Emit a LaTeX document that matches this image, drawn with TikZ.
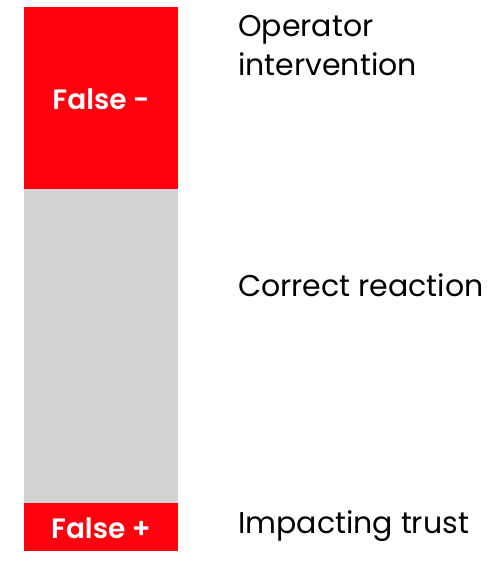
\documentclass[tikz,border=0pt]{standalone}
\usepackage{fontspec}
\setmainfont{Poppins}[BoldFont={Poppins SemiBold}]
\definecolor{abbred}{HTML}{FF000F}
\definecolor{barGray}{HTML}{D2D2D2}
\begin{document}
\begin{tikzpicture}[x=1pt,y=-1pt,
  bandtext/.style={text=white,font=\fontsize{28}{32}\selectfont\bfseries,anchor=base,inner sep=0pt},
  label/.style={text=black,font=\fontsize{30}{39}\selectfont,anchor=base west,inner sep=0pt,align=left}]
  \useasboundingbox (0,0) rectangle (502,571);
  % stacked bar
  \fill[abbred] (24,7) rectangle (178,189);
  \fill[barGray] (24,189) rectangle (178,503);
  \fill[abbred] (24,503) rectangle (178,551);
  \node[bandtext] (fneg) at (101,109) {False -};
  \node[bandtext] (fpos) at (101,538) {False +};
  % category labels
  \node[label] (op) at (238,36) {Operator};
  \node[label] (iv) at (238,75) {intervention};
  \node[label] (cr) at (238,296) {Correct reaction};
  \node[label] (it) at (238,533) {Impacting trust};
\end{tikzpicture}
\end{document}
